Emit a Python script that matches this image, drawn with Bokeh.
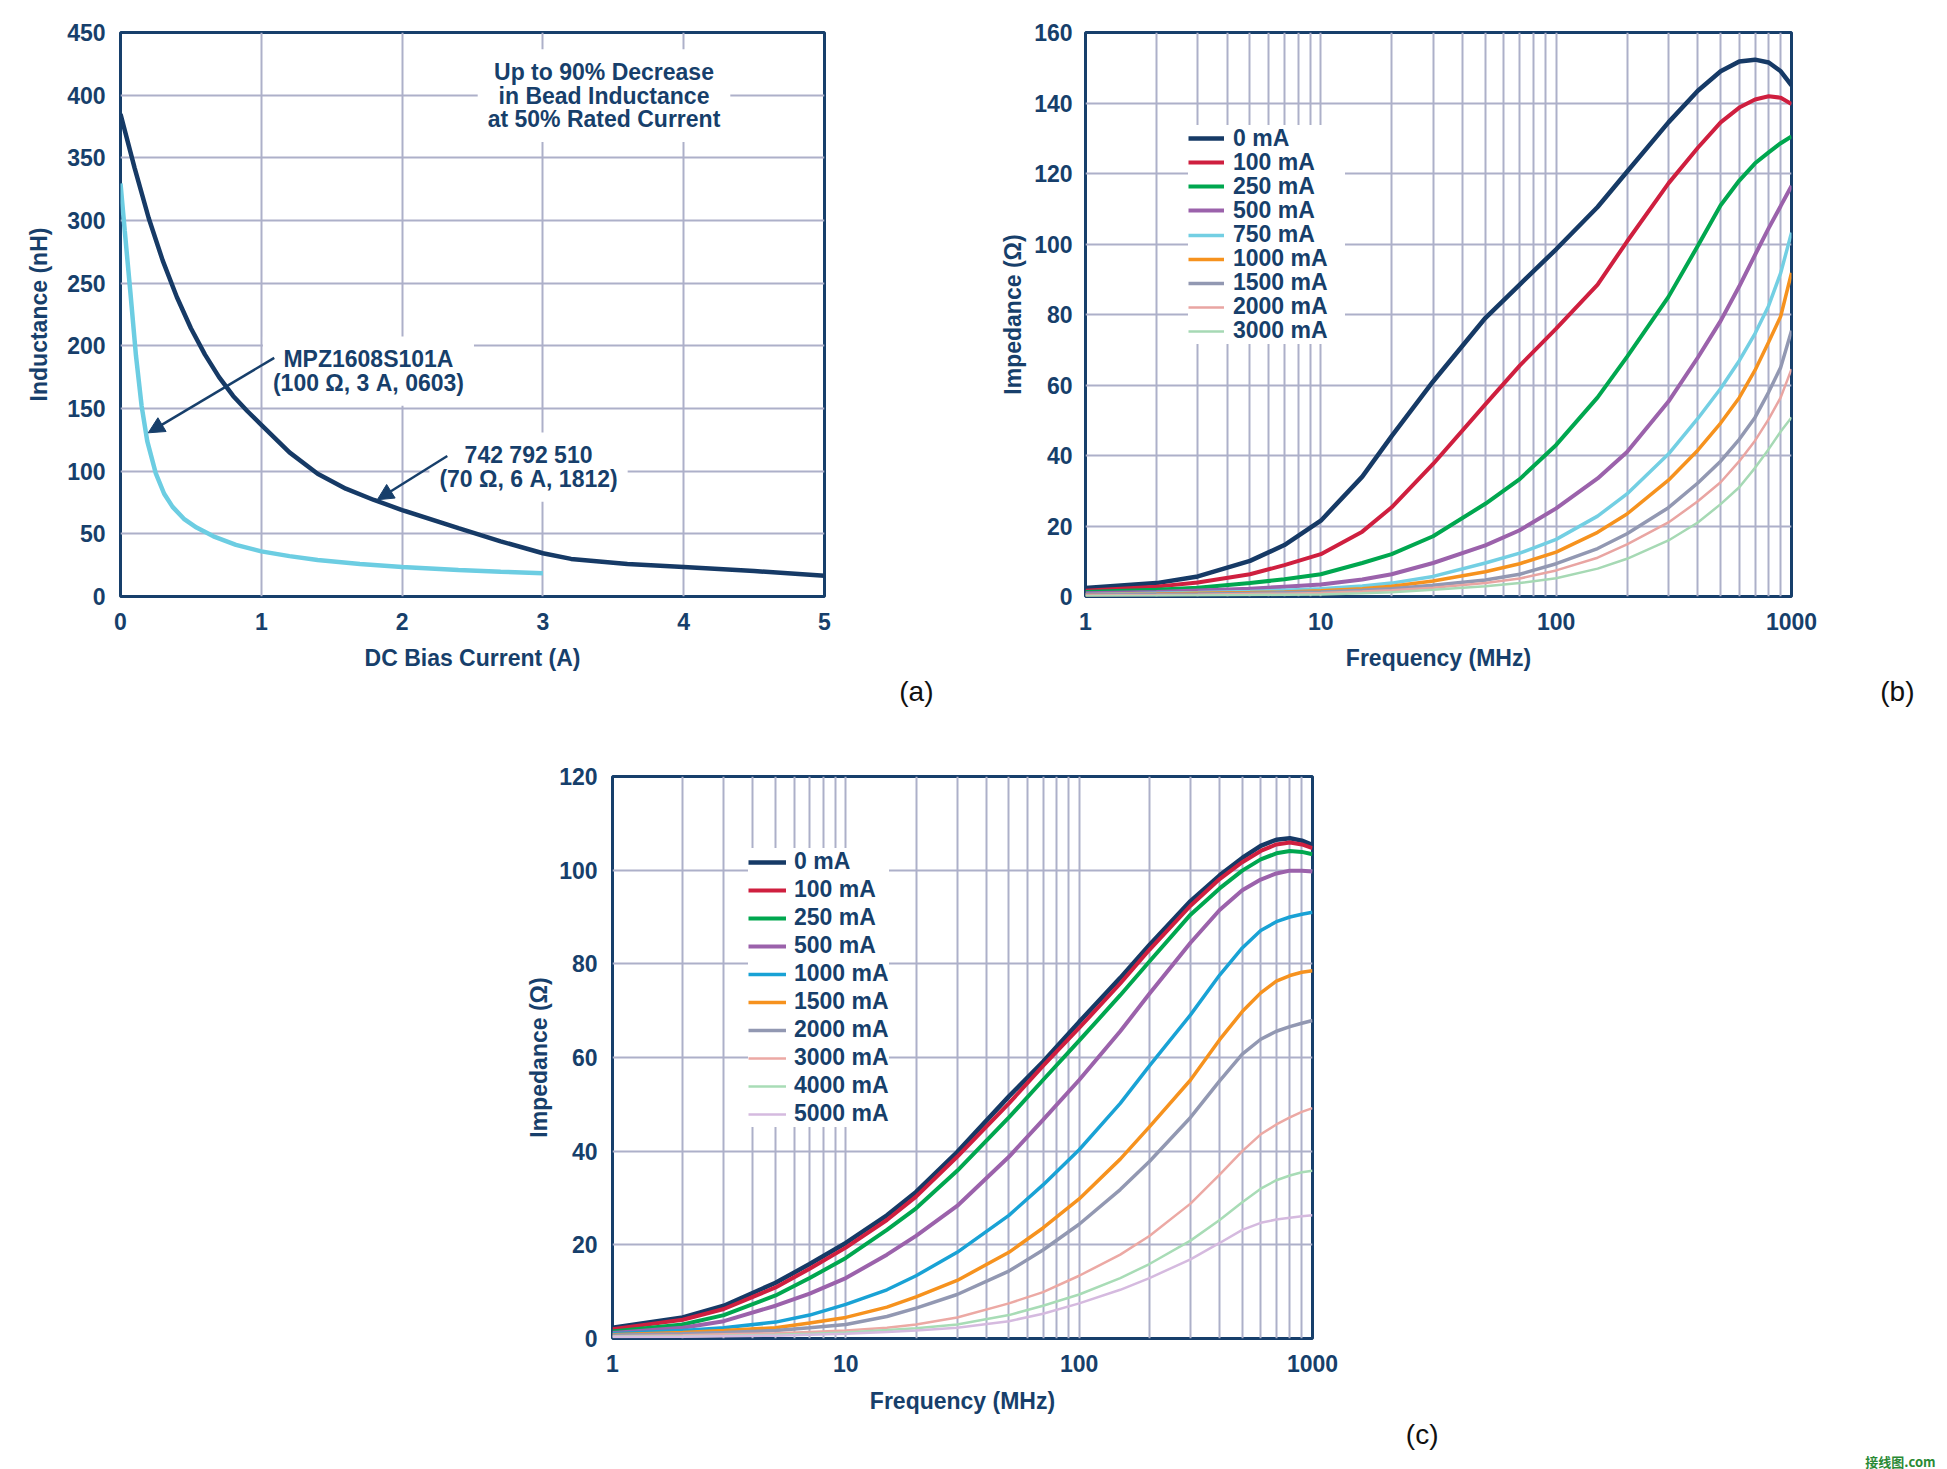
from bokeh.plotting import figure
from bokeh.models import (ColumnDataSource, FixedTicker, Legend, LegendItem, Title,
                          Arrow, NormalHead, Spacer, BasicTickFormatter)
from bokeh.layouts import row, column
from bokeh.embed import file_html
from bokeh.resources import INLINE
from bokeh.core.properties import value

NAVY = "#173f6b"
GRID = "#adb0c9"
FONT = "Liberation Sans"

# ---------------- Panel (a): inductance vs DC bias ----------------
bias_742 = [0, 0.1, 0.2, 0.3, 0.4, 0.5, 0.6, 0.7, 0.8, 0.9, 1.0, 1.2, 1.4, 1.6, 1.8, 2.0, 2.4, 2.7, 3.0, 3.2, 3.6, 4.0, 4.5, 5.0]
ind_742 = [385, 342, 302, 268, 239, 214, 193, 175, 160, 148, 137, 115, 98, 86, 77, 69, 54.5, 44, 34.5, 30, 26, 23.5, 20.3, 16.5]
bias_mpz = [0, 0.03, 0.07, 0.11, 0.15, 0.19, 0.25, 0.31, 0.37, 0.45, 0.54, 0.66, 0.82, 1.0, 1.2, 1.4, 1.7, 2.0, 2.4, 2.7, 3.0]
ind_mpz = [329.5, 292, 243, 192, 152, 124, 98.5, 82, 71.5, 62, 55, 48, 41.2, 36, 32.2, 29.2, 26, 23.6, 21.2, 19.8, 18.6]

a_xticks = [0, 1, 2, 3, 4, 5]
a_yticks = [0, 50, 100, 150, 200, 250, 300, 350, 400, 450]

note_text = ["Up to 90% Decrease\nin Bead Inductance\nat 50% Rated Current"]
note_x = [3.434]
note_y = [399.7]
mpz_text = ["MPZ1608S101A\n(100 Ω, 3 A, 0603)"]
mpz_x = [1.761]
mpz_y = [179.8]
wur_text = ["742 792 510\n(70 Ω, 6 A, 1812)"]
wur_x = [2.898]
wur_y = [103.2]
mpz_arrow = [1.092, 190.4, 0.197, 130.6]
wur_arrow = [2.321, 112.1, 1.824, 77.2]

# ---------------- Panel (b) ----------------
freq = [1, 2, 3, 5, 7, 10, 15, 20, 30, 50, 70, 100, 150, 200, 300, 400, 500, 600, 700, 800, 900, 1000]
b_labels = ["0 mA", "100 mA", "250 mA", "500 mA", "750 mA", "1000 mA", "1500 mA", "2000 mA", "3000 mA"]
zb_0 = [2.4, 3.8, 5.7, 10.1, 14.6, 21.5, 34.0, 45.5, 61.0, 79.0, 88.5, 98.5, 110.5, 120.5, 134.5, 143.5, 149.0, 151.8, 152.3, 151.5, 149.0, 145.0]
zb_100 = [1.6, 2.8, 4.0, 6.3, 8.9, 12.0, 18.4, 25.3, 37.6, 54.5, 65.5, 76.0, 88.5, 100.7, 117.2, 127.3, 134.5, 138.7, 141.0, 141.9, 141.5, 139.7]
zb_250 = [1.3, 1.9, 2.5, 3.8, 4.9, 6.3, 9.5, 12.0, 17.1, 26.3, 33.3, 43.0, 56.5, 68.0, 85.0, 99.5, 111.0, 118.0, 122.9, 126.0, 128.6, 130.5]
zb_500 = [0.9, 1.3, 1.7, 2.2, 2.8, 3.4, 4.8, 6.3, 9.5, 14.5, 18.8, 25.0, 33.5, 41.0, 55.3, 67.8, 78.2, 88.0, 96.9, 104.5, 110.8, 116.5]
zb_750 = [0.6, 0.9, 1.1, 1.4, 1.8, 2.2, 3.0, 3.8, 5.7, 9.5, 12.3, 16.2, 22.8, 29.1, 40.4, 50.5, 59.0, 66.9, 74.6, 82.5, 91.8, 103.2]
zb_1000 = [0.5, 0.7, 0.9, 1.1, 1.3, 1.6, 2.2, 2.9, 4.4, 7.0, 9.3, 12.6, 18.2, 23.4, 33.0, 41.5, 49.2, 56.4, 64.2, 72.2, 79.5, 91.8]
zb_1500 = [0.4, 0.6, 0.7, 0.9, 1.1, 1.3, 1.8, 2.2, 3.2, 4.7, 6.3, 9.3, 13.6, 17.8, 25.2, 32.2, 38.4, 44.6, 50.8, 58.0, 65.0, 75.4]
zb_2000 = [0.3, 0.4, 0.5, 0.7, 0.8, 1.0, 1.4, 1.8, 2.5, 3.8, 5.1, 7.4, 11.0, 14.8, 21.0, 27.0, 32.4, 38.4, 44.2, 50.3, 56.5, 64.5]
zb_3000 = [0.1, 0.2, 0.3, 0.4, 0.5, 0.6, 0.9, 1.2, 1.9, 2.9, 3.8, 5.2, 7.9, 10.7, 15.9, 21.0, 26.2, 31.0, 36.5, 41.8, 46.8, 50.8]
b_colors = ["#163a66", "#cf1f3f", "#00a74f", "#9b62ab", "#73cfe3", "#f6921e", "#9298b2", "#e9a5a2", "#a6d9b4"]
b_widths = [4.5, 4, 4, 4, 3.5, 3.5, 3.5, 2.5, 2.5]

# ---------------- Panel (c) ----------------
c_labels = ["0 mA", "100 mA", "250 mA", "500 mA", "1000 mA", "1500 mA", "2000 mA", "3000 mA", "4000 mA", "5000 mA"]
zc_0 = [2.3, 4.5, 7.0, 11.9, 15.9, 20.4, 26.3, 31.3, 39.8, 51.7, 59.1, 67.6, 77.0, 84.0, 93.4, 98.9, 102.6, 105.2, 106.5, 106.8, 106.3, 105.4]
zc_100 = [2.0, 4.0, 6.3, 10.9, 14.9, 19.4, 25.3, 30.3, 38.8, 50.2, 58.2, 66.3, 75.8, 83.0, 92.4, 98.1, 101.7, 104.1, 105.5, 105.9, 105.5, 104.7]
zc_250 = [1.5, 3.0, 5.0, 9.2, 12.9, 17.2, 23.2, 27.8, 35.8, 47.2, 55.2, 63.6, 73.3, 80.5, 90.5, 96.1, 99.9, 102.3, 103.6, 104.1, 103.9, 103.4]
zc_500 = [1.2, 2.3, 3.7, 7.0, 9.6, 12.9, 17.9, 21.9, 28.3, 38.8, 46.7, 55.2, 65.6, 73.6, 84.5, 91.5, 95.7, 98.0, 99.3, 99.9, 99.9, 99.7]
zc_1000 = [1.0, 1.7, 2.3, 3.5, 5.0, 7.3, 10.4, 13.4, 18.4, 26.3, 32.8, 40.3, 50.2, 58.2, 69.1, 77.6, 83.4, 87.1, 89.0, 90.0, 90.6, 91.0]
zc_1500 = [0.8, 1.3, 1.7, 2.3, 3.3, 4.5, 6.7, 8.9, 12.4, 18.4, 23.6, 29.8, 38.3, 45.2, 55.2, 63.8, 69.8, 73.8, 76.3, 77.5, 78.2, 78.5]
zc_2000 = [0.7, 1.0, 1.3, 1.7, 2.3, 3.0, 4.7, 6.5, 9.4, 14.4, 18.9, 24.4, 31.8, 37.8, 47.2, 55.0, 60.7, 63.9, 65.6, 66.6, 67.3, 67.9]
zc_3000 = [0.5, 0.7, 0.9, 1.1, 1.4, 1.7, 2.3, 3.0, 4.5, 7.5, 9.9, 13.4, 17.9, 21.9, 28.8, 35.0, 40.0, 43.6, 45.7, 47.2, 48.4, 49.2]
zc_4000 = [0.4, 0.5, 0.6, 0.8, 1.0, 1.3, 1.8, 2.2, 3.0, 5.0, 7.0, 9.4, 12.9, 15.9, 20.9, 25.3, 29.1, 32.0, 33.8, 34.8, 35.5, 35.8]
zc_5000 = [0.3, 0.4, 0.5, 0.6, 0.8, 1.0, 1.4, 1.7, 2.3, 3.7, 5.3, 7.5, 10.4, 12.9, 16.9, 20.4, 23.2, 24.7, 25.4, 25.8, 26.1, 26.3]
c_colors = ["#163a66", "#cf1f3f", "#00a74f", "#9b62ab", "#19a2d5", "#f6921e", "#9298b2", "#eca9a4", "#a8dcb6", "#d5badf"]
c_widths = [4.5, 4, 4, 4, 3.5, 3.5, 3.5, 2.5, 2.5, 2.5]

log_major = [1, 10, 100, 1000]
log_minor = [m * d for d in (1, 10, 100) for m in range(2, 10)]
b_yticks = [0, 20, 40, 60, 80, 100, 120, 140, 160]
c_yticks = [0, 20, 40, 60, 80, 100, 120]


def style(p, xlabel, ylabel, xticks, yticks, xminor, ylab_standoff, ytick_standoff, xlab_standoff):
    p.outline_line_color = NAVY
    p.outline_line_width = 3
    p.outline_line_alpha = 1.0
    p.background_fill_color = "white"
    p.border_fill_color = "white"
    p.xaxis.ticker = FixedTicker(ticks=xticks, minor_ticks=xminor)
    p.yaxis.ticker = FixedTicker(ticks=yticks)
    p.xgrid.ticker = p.xaxis[0].ticker
    p.ygrid.ticker = p.yaxis[0].ticker
    for g in (p.xgrid[0], p.ygrid[0]):
        g.grid_line_color = GRID
        g.grid_line_width = 2
    if xminor:
        p.xgrid.minor_grid_line_color = GRID
        p.xgrid.minor_grid_line_width = 2
    for ax in (p.xaxis[0], p.yaxis[0]):
        ax.axis_line_color = None
        ax.major_tick_line_color = None
        ax.minor_tick_line_color = None
        ax.major_label_text_font = FONT
        ax.major_label_text_font_style = "bold"
        ax.major_label_text_font_size = "23px"
        ax.major_label_text_color = NAVY
        ax.axis_label_text_font = FONT
        ax.axis_label_text_font_style = "bold"
        ax.axis_label_text_font_size = "23px"
        ax.axis_label_text_color = NAVY
    p.xaxis.axis_label = xlabel
    p.yaxis.axis_label = ylabel
    p.xaxis.major_label_standoff = 10
    p.xaxis.axis_label_standoff = xlab_standoff
    p.yaxis.major_label_standoff = ytick_standoff
    p.yaxis.axis_label_standoff = ylab_standoff


def panel_tag(p, text, offset):
    p.add_layout(Title(text=text, align="right", offset=-offset, standoff=0,
                       text_font=FONT, text_font_size="28px", text_font_style="normal",
                       text_color="#111111"), "below")


def make_legend(items, loc, spacing, gw, standoff, padding, label_width):
    leg = Legend(items=items, location=loc)
    leg.label_text_font = FONT
    leg.label_text_font_style = "bold"
    leg.label_text_font_size = "23px"
    leg.label_text_color = NAVY
    leg.glyph_width = gw
    leg.glyph_height = 20
    leg.label_height = 20
    leg.label_width = label_width
    leg.label_standoff = standoff
    leg.spacing = spacing
    leg.padding = padding
    leg.margin = 0
    leg.border_line_color = None
    leg.background_fill_color = "white"
    leg.background_fill_alpha = 1.0
    return leg


# ---- figure A
pa = figure(frame_width=704, frame_height=564, x_range=(0, 5), y_range=(0, 450),
            output_backend="svg", toolbar_location=None,
            min_border_left=120, min_border_right=120, min_border_top=32, min_border_bottom=120)
style(pa, "DC Bias Current (A)", "Inductance (nH)", a_xticks, a_yticks, [], 12, 9, 12)
pa.line(bias_mpz, ind_mpz, line_color="#6ccde2", line_width=4.5)
pa.line(bias_742, ind_742, line_color="#163a66", line_width=4.5)

for txt, xs, ys in ((note_text, note_x, note_y), (mpz_text, mpz_x, mpz_y), (wur_text, wur_x, wur_y)):
    src = ColumnDataSource(dict(x=xs, y=ys, text=txt))
    pa.text(x="x", y="y", text="text", source=src, text_font=value(FONT), text_font_style="bold",
            text_font_size="23px", text_color=NAVY, text_align="center", text_baseline="middle",
            text_line_height=0.9, background_fill_color="white", padding=10)

for arr in (mpz_arrow, wur_arrow):
    pa.add_layout(Arrow(end=NormalHead(size=16, fill_color=NAVY, line_color=NAVY, line_width=1),
                        x_start=arr[0], y_start=arr[1], x_end=arr[2], y_end=arr[3],
                        line_color=NAVY, line_width=2.5))
panel_tag(pa, "(a)", 109)

# ---- figure B
pb = figure(frame_width=706, frame_height=564, x_axis_type="log", x_range=(1, 1000), y_range=(0, 160),
            output_backend="svg", toolbar_location=None,
            min_border_left=141, min_border_right=140, min_border_top=32, min_border_bottom=120)
style(pb, "Frequency (MHz)", "Impedance (Ω)", log_major, b_yticks, log_minor, 5, 7, 12)
pb.xaxis.formatter = BasicTickFormatter(use_scientific=False)
pb.xaxis.major_label_overrides = {1: "1", 10: "10", 100: "100", 1000: "1000"}
b_series = [zb_0, zb_100, zb_250, zb_500, zb_750, zb_1000, zb_1500, zb_2000, zb_3000]
rb = []
for ys, c, w in zip(b_series, b_colors, b_widths):
    rb.append(pb.line(freq, ys, line_color=c, line_width=w))
# one legend row per entry so the rows can sit as tightly as in the original
for i in reversed(range(len(b_labels))):
    pb.add_layout(make_legend([LegendItem(label=b_labels[i], renderers=[rb[i]])],
                              (103, 444.2 - 24.05 * i), 0, 36, 9, 0, 112))
panel_tag(pb, "(b)", 123)

# ---- figure C
pc = figure(frame_width=700, frame_height=562, x_axis_type="log", x_range=(1, 1000), y_range=(0, 120),
            output_backend="svg", toolbar_location=None,
            min_border_left=112, min_border_right=627, min_border_top=60, min_border_bottom=128)
style(pc, "Frequency (MHz)", "Impedance (Ω)", log_major, c_yticks, log_minor, 4, 9, 13)
pc.xaxis.formatter = BasicTickFormatter(use_scientific=False)
pc.xaxis.major_label_overrides = {1: "1", 10: "10", 100: "100", 1000: "1000"}
c_series = [zc_0, zc_100, zc_250, zc_500, zc_1000, zc_1500, zc_2000, zc_3000, zc_4000, zc_5000]
rc = []
for ys, c, w in zip(c_series, c_colors, c_widths):
    rc.append(pc.line(freq, ys, line_color=c, line_width=w))
pc.add_layout(make_legend([LegendItem(label=l, renderers=[r]) for l, r in zip(c_labels, rc)],
                          (136, 211), 1, 38, 8, 10, 20))
panel_tag(pc, "(c)", 126)
pc.add_layout(Title(text="接线图.com", align="right", offset=-623, standoff=0,
                    text_font="Noto Sans CJK SC", text_font_size="13px", text_font_style="bold",
                    text_color="#2a8a35"), "below")

layout = column(row(pa, pb, spacing=0), row(Spacer(width=500, height=10), pc, spacing=0), spacing=0)
open("out.html", "w").write(file_html(layout, INLINE))
